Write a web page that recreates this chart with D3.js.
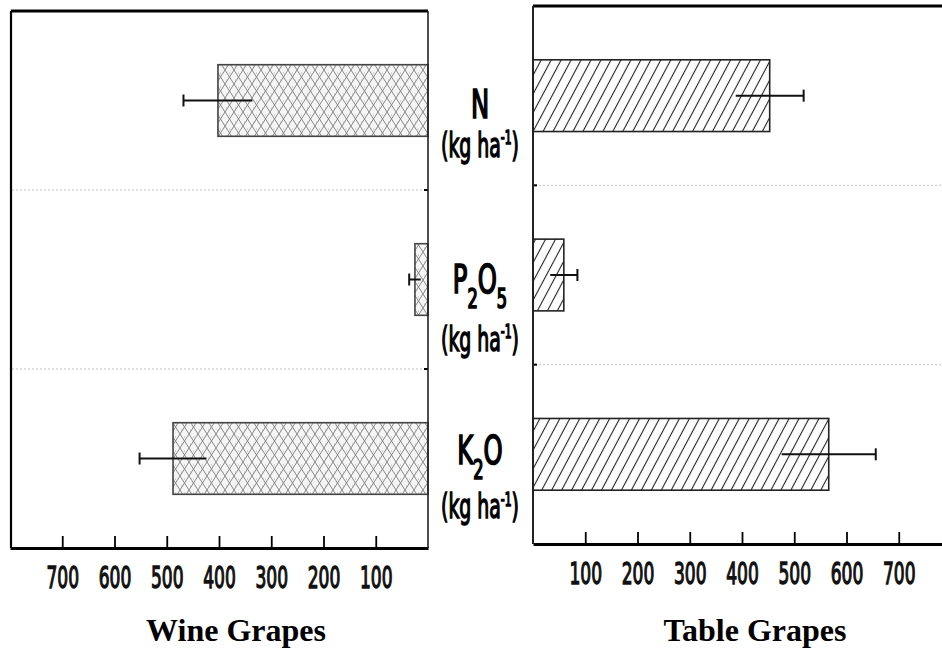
<!DOCTYPE html>
<html>
<head>
<meta charset="utf-8">
<script src="https://cdn.jsdelivr.net/npm/d3@7"></script>
<style>
  html, body { margin: 0; padding: 0; background: #fff; }
  svg { display: block; }
  .narrow { font-family: 'Liberation Sans Narrow', 'DejaVu Sans Condensed', 'Arial Narrow', sans-serif; }
  .title { font-family: 'Liberation Serif', 'Times New Roman', serif; font-weight: bold; }
</style>
</head>
<body>
<svg id="chart" width="942" height="652"></svg>
<script>
// ---------------- data ----------------
const categories = ["N", "P2O5", "K2O"];
const wineValues = [402, 25, 488];
const wineErrors = [66, 11, 64];
const tableValues = [453, 59, 566];
const tableErrors = [65, 26, 90];
const tickValues = [100, 200, 300, 400, 500, 600, 700];
const panelTitles = ["Wine Grapes", "Table Grapes"];
const unitLabel = "(kg ha";
const unitSup = "-1";
// label pieces: [text, isSubscript]
const categoryLabelParts = {
  "N": [["N", false]],
  "P2O5": [["P", false], ["2", true], ["O", false], ["5", true]],
  "K2O": [["K", false], ["2", true], ["O", false]]
};

// ---------------- layout ----------------
const svg = d3.select("#chart");
const defs = svg.append("defs");

// crosshatch (wine)
const cross = defs.append("pattern").attr("id", "cross")
  .attr("patternUnits", "userSpaceOnUse").attr("width", 9).attr("height", 14);
cross.append("rect").attr("width", 9).attr("height", 14).attr("fill", "#f5f5f5");
cross.append("path").attr("d", "M0,0 L9,14 M9,0 L0,14 M-4.5,7 L0,14 M9,0 L13.5,7")
  .attr("stroke", "#7a7a7a").attr("stroke-width", 0.9).attr("fill", "none");
cross.append("circle").attr("cx", 4.5).attr("cy", 3).attr("r", 0.5).attr("fill", "#999");
cross.append("circle").attr("cx", 1.5).attr("cy", 10).attr("r", 0.5).attr("fill", "#aaa");

// diagonal hatch (table)
const diag = defs.append("pattern").attr("id", "diag")
  .attr("patternUnits", "userSpaceOnUse").attr("width", 8.8).attr("height", 10)
  .attr("patternTransform", "rotate(28)");
diag.append("rect").attr("width", 8.8).attr("height", 10).attr("fill", "#fff");
diag.append("line").attr("x1", 4.4).attr("y1", -1).attr("x2", 4.4).attr("y2", 11)
  .attr("stroke", "#222").attr("stroke-width", 1.1);

// scales
const xL = d3.scaleLinear().domain([0, 800]).range([428, 10]);
const xR = d3.scaleLinear().domain([0, 800]).range([533, 951]);
const yL = d3.scaleBand().domain(categories).range([11, 548]).paddingInner(0.6).paddingOuter(0.3);
const yR = d3.scaleBand().domain(categories).range([6, 544]).paddingInner(0.6).paddingOuter(0.3);

function panel(x, y, values, errors, fill, barStroke, side) {
  const g = svg.append("g");
  const x0 = x(0);
  const yTop = y.range()[0], yBot = y.range()[1];
  const xFar = side === "left" ? x.range()[1] + 1 : 942;

  // dotted separators
  for (let i = 1; i < categories.length; i++) {
    const yy = yTop + y.step() * i;
    g.append("line").attr("x1", side === "left" ? xFar + 1 : x0 + 2).attr("x2", side === "left" ? x0 - 2 : 942)
      .attr("y1", yy).attr("y2", yy)
      .attr("stroke", "#c4c4c4").attr("stroke-width", 1).attr("stroke-dasharray", "2,2");
    g.append("line").attr("x1", x0).attr("x2", side === "left" ? x0 - 4 : x0 + 4)
      .attr("y1", yy).attr("y2", yy).attr("stroke", "#000").attr("stroke-width", 2);
  }

  // bars
  g.selectAll("rect.bar").data(categories).join("rect").attr("class", "bar")
    .attr("x", (d, i) => Math.min(x(0), x(values[i])))
    .attr("width", (d, i) => Math.abs(x(values[i]) - x(0)))
    .attr("y", d => y(d))
    .attr("height", y.bandwidth())
    .attr("fill", fill).attr("stroke", barStroke).attr("stroke-width", 1.6);

  // error bars
  categories.forEach((c, i) => {
    const cy = y(c) + y.bandwidth() / 2;
    const xa = x(values[i] - errors[i]), xb = x(values[i] + errors[i]);
    g.append("line").attr("x1", xa).attr("x2", xb).attr("y1", cy).attr("y2", cy)
      .attr("stroke", "#111").attr("stroke-width", 2);
    g.append("line").attr("x1", xb).attr("x2", xb).attr("y1", cy - 6).attr("y2", cy + 6)
      .attr("stroke", "#111").attr("stroke-width", 2);
  });

  // frame
  if (side === "left") {
    g.append("line").attr("x1", x.range()[1] + 1).attr("x2", x0).attr("y1", yTop).attr("y2", yTop)
      .attr("stroke", "#000").attr("stroke-width", 3.2);
    g.append("line").attr("x1", x.range()[1] + 1).attr("x2", x.range()[1] + 1).attr("y1", yTop).attr("y2", yBot)
      .attr("stroke", "#000").attr("stroke-width", 2.2);
    g.append("line").attr("x1", x0).attr("x2", x0).attr("y1", yTop).attr("y2", yBot)
      .attr("stroke", "#222").attr("stroke-width", 1.6);
  } else {
    g.append("line").attr("x1", x0).attr("x2", 942).attr("y1", yTop).attr("y2", yTop)
      .attr("stroke", "#000").attr("stroke-width", 3.2);
    g.append("line").attr("x1", x0).attr("x2", x0).attr("y1", yTop).attr("y2", yBot)
      .attr("stroke", "#222").attr("stroke-width", 2);
  }

  // axis
  const ax = g.append("g").attr("transform", `translate(0,${yBot})`)
    .call(d3.axisBottom(x).tickValues(tickValues).tickSizeInner(-11).tickSizeOuter(0));
  ax.select(".domain").attr("stroke", "#000").attr("stroke-width", 3.2);
  ax.selectAll(".tick line").attr("stroke", "#000").attr("stroke-width", 1.8).attr("y2", -12);
  ax.selectAll(".tick text")
    .attr("class", "narrow")
    .attr("y", 0).attr("dy", 0)
    .attr("transform", "translate(0,40) scale(1,1.6)")
    .attr("font-size", 19).attr("fill", "#111")
    .attr("stroke", "#111").attr("stroke-width", 0.8);
  ax.attr("font-family", null).attr("font-size", null);
}

panel(xL, yL, wineValues, wineErrors, "url(#cross)", "#444", "left");
panel(xR, yR, tableValues, tableErrors, "url(#diag)", "#222", "right");

// ---------------- category labels ----------------
const labelX = 480;
const labelDy = [20, 16, 8];
const unitGap = [39, 58, 54];
categories.forEach((c, i) => {
  const cy = (yL(c) + yR(c)) / 2 + (yL.bandwidth()) / 2;
  const parts = categoryLabelParts[c];
  const base = cy + labelDy[i];
  const g1 = svg.append("g").attr("transform", `translate(${labelX},${base}) scale(1,1.45)`);
  const t = g1.append("text").attr("class", "narrow").attr("text-anchor", "middle")
    .attr("font-size", 27).attr("fill", "#000").attr("stroke", "#000").attr("stroke-width", 1.2);
  let prevSub = false;
  parts.forEach(p => {
    const ts = t.append("tspan").text(p[0]);
    if (p[1]) { ts.attr("font-size", 18).attr("dy", prevSub ? 0 : 10); }
    else if (prevSub) { ts.attr("dy", -10); }
    prevSub = p[1];
  });
  const unitBase = base + unitGap[i];
  const g2 = svg.append("g").attr("transform", `translate(${labelX},${unitBase}) scale(1,1.6)`);
  const u = g2.append("text").attr("class", "narrow").attr("text-anchor", "middle")
    .attr("font-size", 21).attr("fill", "#000").attr("stroke", "#000").attr("stroke-width", 0.9);
  u.append("tspan").text(unitLabel);
  u.append("tspan").text(unitSup).attr("font-size", 12).attr("dy", -8);
  u.append("tspan").text(")").attr("dy", 8);
});

// ---------------- titles ----------------
svg.append("text").attr("class", "title").attr("x", 236).attr("y", 641)
  .attr("text-anchor", "middle").attr("font-size", 32).text(panelTitles[0]);
svg.append("text").attr("class", "title").attr("x", 755).attr("y", 641)
  .attr("text-anchor", "middle").attr("font-size", 32).text(panelTitles[1]);
</script>
</body>
</html>
